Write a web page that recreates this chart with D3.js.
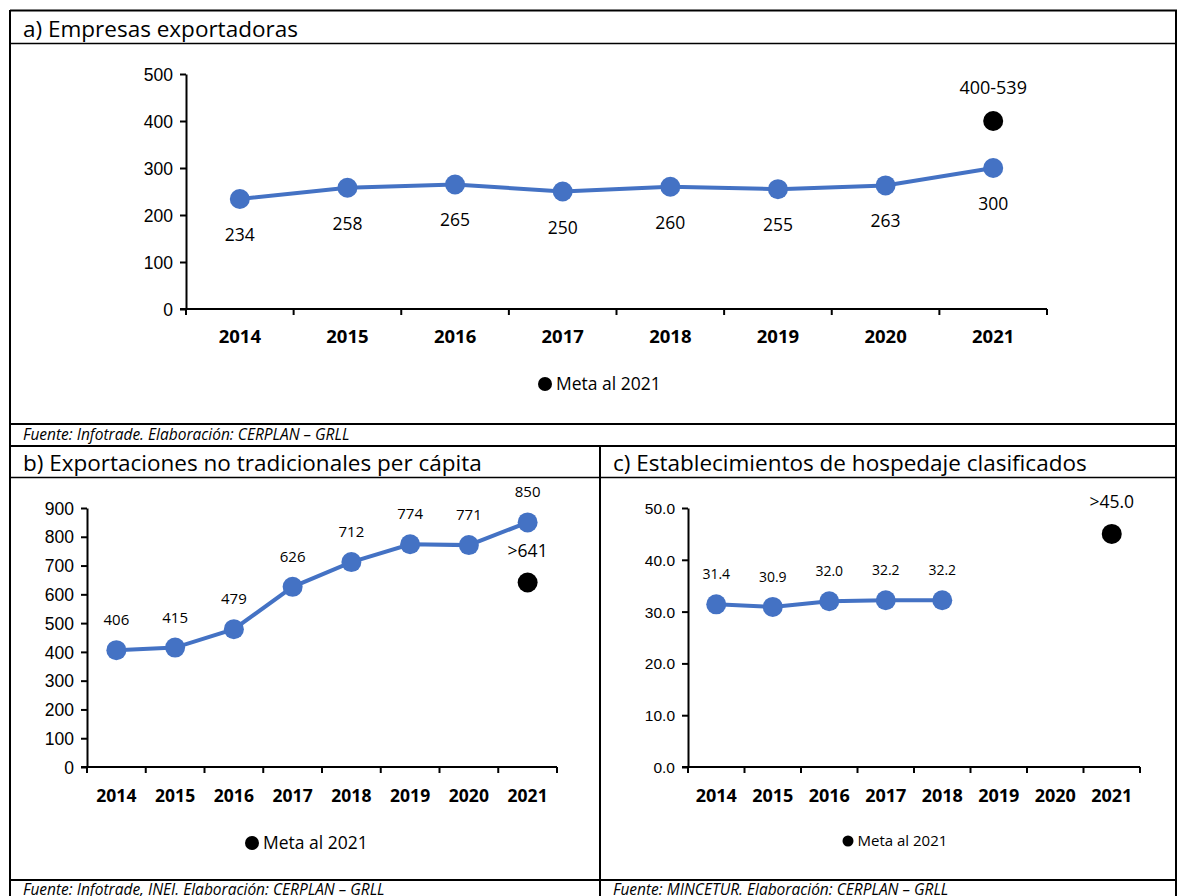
<!DOCTYPE html>
<html><head><meta charset="utf-8">
<script src="https://cdn.jsdelivr.net/npm/d3@7"></script>
<style>
body{margin:0;background:#fff;}
svg{display:block;font-family:"Open Sans","Noto Sans",sans-serif;}
</style></head>
<body><svg id="c" width="1177" height="896"></svg>
<script>
const years = ["2014","2015","2016","2017","2018","2019","2020","2021"];
const empresas = [234,258,265,250,260,255,263,300];
const metaEmpresas = 400, metaEmpresasLabel = "400-539";
const exportaciones = [406,415,479,626,712,774,771,850];
const metaExport = 641, metaExportLabel = ">641";
const hospedaje = [31.4,30.9,32.0,32.2,32.2];
const metaHosp = 45.0, metaHospLabel = ">45.0";
const ticksA = [0,100,200,300,400,500];
const ticksB = [0,100,200,300,400,500,600,700,800,900];
const ticksC = [0,10,20,30,40,50];

const svg = d3.select("#c");
const BLUE = "#4472C4";

// frame
const fr = svg.append("g").attr("stroke","#000").attr("fill","none");
fr.append("line").attr("x1",10).attr("x2",1177).attr("y1",10.5).attr("y2",10.5).attr("stroke-width",2);
fr.append("line").attr("x1",10).attr("x2",10).attr("y1",10).attr("y2",896).attr("stroke-width",2);
fr.append("line").attr("x1",1176).attr("x2",1176).attr("y1",10).attr("y2",896).attr("stroke-width",2);
fr.append("line").attr("x1",10).attr("x2",1177).attr("y1",43.5).attr("y2",43.5).attr("stroke-width",1.5);
fr.append("line").attr("x1",10).attr("x2",1177).attr("y1",424).attr("y2",424).attr("stroke-width",2);
fr.append("line").attr("x1",10).attr("x2",1177).attr("y1",446).attr("y2",446).attr("stroke-width",2);
fr.append("line").attr("x1",10).attr("x2",1177).attr("y1",477.5).attr("y2",477.5).attr("stroke-width",1.5);
fr.append("line").attr("x1",600).attr("x2",600).attr("y1",446).attr("y2",896).attr("stroke-width",2);
fr.append("line").attr("x1",10).attr("x2",1177).attr("y1",880).attr("y2",880).attr("stroke-width",2);

function txt(x,y,s,opts={}){
  return svg.append("text").attr("x",x).attr("y",y).text(s)
    .attr("font-size",opts.size||16).attr("font-weight",opts.weight||"normal")
    .attr("font-style",opts.style||"normal").attr("text-anchor",opts.anchor||"start")
    .attr("fill","#000");
}
txt(23,37,"a) Empresas exportadoras",{size:22.5});
txt(23,440,"Fuente: Infotrade. Elaboración: CERPLAN – GRLL",{size:15.5,style:"italic"});
txt(23,471,"b) Exportaciones no tradicionales per cápita",{size:22.5});
txt(613,471,"c) Establecimientos de hospedaje clasificados",{size:22.5});
txt(23,895,"Fuente: Infotrade, INEI. Elaboración: CERPLAN – GRLL",{size:15.5,style:"italic"});
txt(613,895,"Fuente: MINCETUR. Elaboración: CERPLAN – GRLL",{size:15.5,style:"italic"});

function panel(cfg){
  const g = svg.append("g");
  const x = d3.scaleBand().domain(years).range([cfg.x0,cfg.x1]).padding(0);
  const y = d3.scaleLinear().domain([0,cfg.max]).range([cfg.y0,cfg.y1]);
  // y axis
  const ya = g.append("g").attr("transform",`translate(${cfg.x0},0)`)
    .call(d3.axisLeft(y).tickValues(cfg.ticks).tickSize(6).tickSizeOuter(0).tickPadding(7).tickFormat(cfg.fmt));
  ya.select(".domain").attr("stroke","#000").attr("stroke-width",2);
  ya.selectAll(".tick line").attr("stroke","#000").attr("stroke-width",2);
  ya.selectAll(".tick text").attr("font-size",cfg.ySize).attr("fill","#000").attr("font-family",null).attr("dy","0.35em");
  // x axis
  g.append("line").attr("x1",cfg.x0-6).attr("x2",cfg.x1).attr("y1",cfg.y0).attr("y2",cfg.y0).attr("stroke","#000").attr("stroke-width",2);
  const bounds = years.map(d=>x(d)).concat([cfg.x1]);
  g.selectAll(".xt").data(bounds).join("line").attr("x1",d=>d).attr("x2",d=>d)
    .attr("y1",cfg.y0).attr("y2",cfg.y0+6).attr("stroke","#000").attr("stroke-width",2);
  g.selectAll(".xl").data(years).join("text").attr("x",d=>x(d)+x.bandwidth()/2).attr("y",cfg.xLabY)
    .attr("text-anchor","middle").attr("font-weight","bold").attr("font-size",cfg.xSize).text(d=>d);
  // line
  const pts = cfg.values.map((v,i)=>({k:years[i],v}));
  g.append("path").datum(pts).attr("fill","none").attr("stroke",BLUE).attr("stroke-width",4)
    .attr("d",d3.line().x(d=>x(d.k)+x.bandwidth()/2).y(d=>y(d.v)));
  g.selectAll(".pt").data(pts).join("circle").attr("cx",d=>x(d.k)+x.bandwidth()/2).attr("cy",d=>y(d.v))
    .attr("r",cfg.r).attr("fill",BLUE);
  g.selectAll(".lb").data(pts).join("text").attr("x",d=>x(d.k)+x.bandwidth()/2).attr("y",d=>y(d.v)+cfg.lblOff)
    .attr("text-anchor","middle").attr("font-size",cfg.lblSize).text(d=>cfg.fmt(d.v));
  // meta
  const mx = x("2021")+x.bandwidth()/2;
  g.append("circle").attr("cx",mx).attr("cy",y(cfg.meta)).attr("r",cfg.r).attr("fill","#000");
  g.append("text").attr("x",mx).attr("y",y(cfg.meta)-cfg.metaOff).attr("text-anchor","middle")
    .attr("font-size",cfg.metaSize).text(cfg.metaLabel);
  // legend
  g.append("circle").attr("cx",cfg.legX).attr("cy",cfg.legY).attr("r",cfg.legR).attr("fill","#000");
  g.append("text").attr("x",cfg.legX+cfg.legR+4).attr("y",cfg.legY+cfg.legSize*0.36)
    .attr("font-size",cfg.legSize).text("Meta al 2021");
}

panel({x0:186,x1:1047,y0:309,y1:74,max:500,ticks:ticksA,fmt:d3.format("d"),ySize:17.5,xSize:18.5,xLabY:343,
  values:empresas,r:10,lblOff:42,lblSize:17.5,meta:metaEmpresas,metaLabel:metaEmpresasLabel,metaOff:27,metaSize:18,
  legX:545,legY:384,legR:7,legSize:17.5});
panel({x0:87,x1:557,y0:767,y1:508,max:900,ticks:ticksB,fmt:d3.format("d"),ySize:17.5,xSize:17.5,xLabY:802,
  values:exportaciones,r:10,lblOff:-25,lblSize:15,meta:metaExport,metaLabel:metaExportLabel,metaOff:26,metaSize:17.5,
  legX:252,legY:843,legR:7,legSize:17.5});
panel({x0:688,x1:1140,y0:767,y1:508,max:50,ticks:ticksC,fmt:d3.format(".1f"),ySize:15.5,xSize:18,xLabY:802,
  values:hospedaje,r:10,lblOff:-25,lblSize:14,meta:metaHosp,metaLabel:metaHospLabel,metaOff:26,metaSize:17.5,
  legX:848,legY:841,legR:5.5,legSize:15});
</script></body></html>
